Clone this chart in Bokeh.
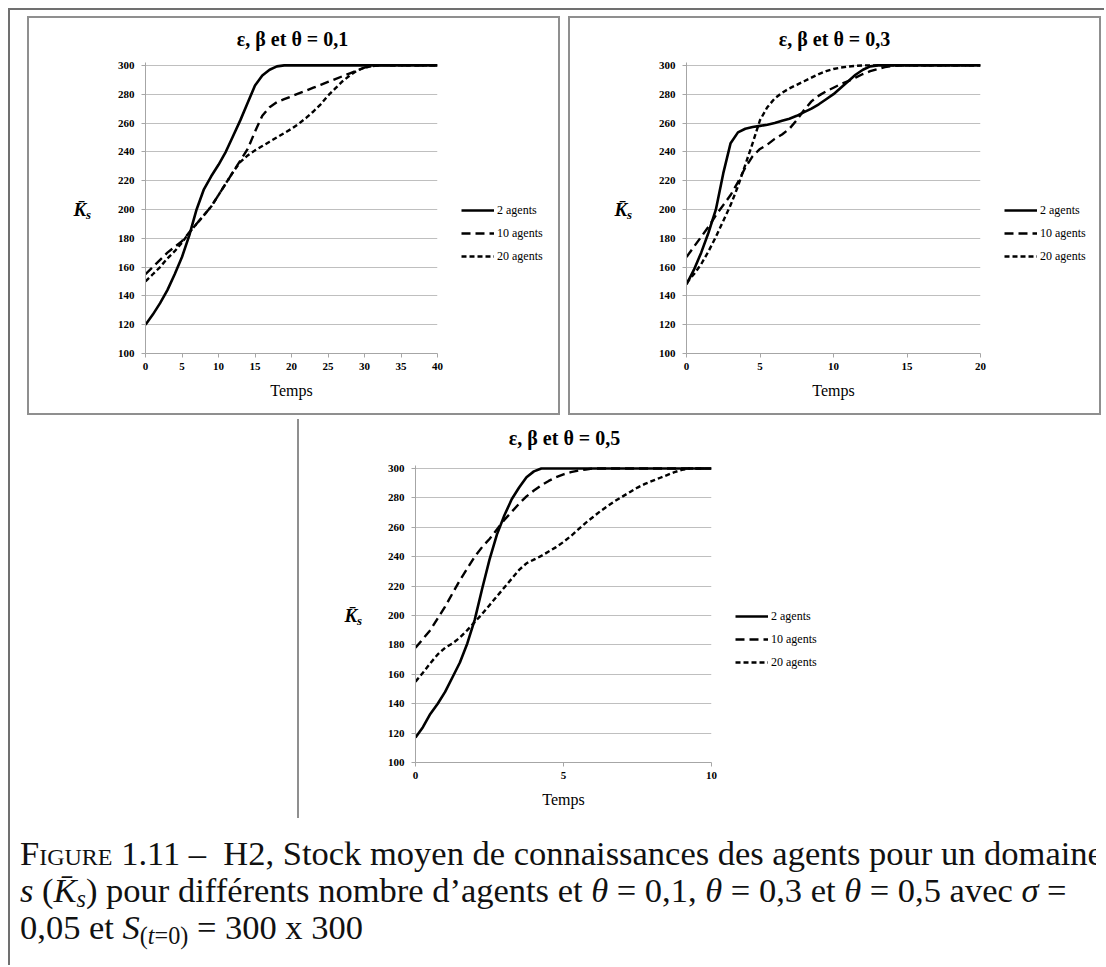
from bokeh.plotting import figure
from bokeh.models import Range1d, FixedTicker, Legend, LegendItem, Div
from bokeh.core.properties import value
from bokeh.embed import file_html
from bokeh.resources import INLINE

SERIF = "Liberation Serif"

series_names = ["2 agents", "10 agents", "20 agents"]
y_ticks = [100, 120, 140, 160, 180, 200, 220, 240, 260, 280, 300]

# ---- Panel 1 : theta = 0,1 ----
title_1 = "ε, β et θ = 0,1"
x_ticks_1 = [0, 5, 10, 15, 20, 25, 30, 35, 40]
t_1 = [0, 1, 2, 3, 4, 5, 6, 7, 8, 9, 10, 11, 12, 13, 14, 15, 16, 17, 18, 19, 20,
       21, 22, 23, 24, 25, 26, 27, 28, 29, 30, 31, 32, 33, 34, 35, 36, 37, 38, 39, 40]
a2_1 = [120, 127, 135, 144, 155, 167, 182, 200, 214, 223, 231, 240, 251, 262, 274, 286, 293, 297, 299.3, 300, 300,
        300, 300, 300, 300, 300, 300, 300, 300, 300, 300, 300, 300, 300, 300, 300, 300, 300, 300, 300, 300]
a10_1 = [155, 160, 165, 170, 174, 178, 184, 190, 196, 202, 210, 218, 226, 234, 242, 254, 265, 271, 274.5, 276.5, 278.5,
         280.5, 282.5, 284.5, 286.5, 288.5, 290.5, 292.5, 294.5, 296.5, 298.5, 299.5, 300, 300, 300, 300, 300, 300, 300, 300, 300]
a20_1 = [150, 155, 160, 166, 171, 177, 184, 190, 196, 202, 210, 218, 226, 233, 237.5, 241, 244, 247, 250, 253, 256,
         259.5, 263.5, 268, 273, 279, 284, 289, 293, 296.5, 298.5, 299.5, 300, 300, 300, 300, 300, 300, 300, 300, 300]

# ---- Panel 2 : theta = 0,3 ----
title_2 = "ε, β et θ = 0,3"
x_ticks_2 = [0, 5, 10, 15, 20]
t_2 = [0, 0.5, 1, 1.5, 2, 2.5, 3, 3.5, 4, 4.5, 5, 5.5, 6, 6.5, 7, 7.5, 8, 8.5, 9, 9.5, 10,
       10.5, 11, 11.5, 12, 12.5, 13, 13.5, 14, 14.5, 15, 15.5, 16, 16.5, 17, 17.5, 18, 18.5, 19, 19.5, 20]
a2_2 = [148, 158, 170, 184, 200, 225, 246, 253.5, 256, 257.2, 258, 258.8, 260, 261.5, 263, 265, 267.5, 270, 273, 276.5, 280,
        284.5, 289, 293.5, 297, 299.3, 300, 300, 300, 300, 300, 300, 300, 300, 300, 300, 300, 300, 300, 300, 300]
a10_2 = [167, 174, 181, 188, 196, 203, 210, 219, 229, 237, 242, 245, 249, 252, 256, 262, 269, 275, 279, 282, 284.5,
         287, 289, 291.5, 294, 296, 297.5, 298.8, 299.5, 300, 300, 300, 300, 300, 300, 300, 300, 300, 300, 300, 300]
a20_2 = [149, 155, 162, 171, 181, 192, 203, 216, 231, 246, 262, 271, 277, 281, 284, 286.5, 289, 291.5, 294, 296, 297.5,
         298.5, 299.2, 299.7, 300, 300, 300, 300, 300, 300, 300, 300, 300, 300, 300, 300, 300, 300, 300, 300, 300]

# ---- Panel 3 : theta = 0,5 ----
title_3 = "ε, β et θ = 0,5"
x_ticks_3 = [0, 5, 10]
t_3 = [0, 0.25, 0.5, 0.75, 1, 1.25, 1.5, 1.75, 2, 2.25, 2.5, 2.75, 3, 3.25, 3.5, 3.75, 4, 4.25, 4.5, 4.75, 5,
       5.25, 5.5, 5.75, 6, 6.25, 6.5, 6.75, 7, 7.25, 7.5, 7.75, 8, 8.25, 8.5, 8.75, 9, 9.25, 9.5, 9.75, 10]
a2_3 = [117, 124, 133, 140, 148, 158, 168, 181, 197, 218, 238, 255, 268, 279, 287, 294, 298, 300, 300, 300, 300,
        300, 300, 300, 300, 300, 300, 300, 300, 300, 300, 300, 300, 300, 300, 300, 300, 300, 300, 300, 300]
a10_3 = [178, 184, 190, 198, 206, 215, 224, 232, 240, 246.5, 252, 258.5, 265, 270.5, 276, 281, 285, 288.5, 291.5, 294, 296,
         297.5, 298.5, 299.3, 300, 300, 300, 300, 300, 300, 300, 300, 300, 300, 300, 300, 300, 300, 300, 300, 300]
a20_3 = [155, 161, 167.5, 173.5, 178, 181, 185, 190, 195.5, 201, 207, 213, 219, 225, 231, 235.5, 238, 240.5, 243.5, 246.5, 250,
         254, 258.5, 263, 267, 271, 274.5, 278, 281, 284, 287, 289.5, 291.5, 293.5, 295.5, 297.5, 299, 300, 300, 300, 300]

SUB = '<sub style="font-size:70%; line-height:0; vertical-align:-0.22em">'
caption_html = (
    '<span style="font-variant: small-caps">Figure</span> 1.11 –&nbsp; H2, Stock moyen de connaissances des agents pour un domaine<br>'
    '<i>s</i> (<i>K̄' + SUB + 's</sub></i>) pour différents nombre d’agents et '
    '<i>θ</i> = 0,1, <i>θ</i> = 0,3 et <i>θ</i> = 0,5 avec <i>σ</i> =<br>'
    '0,05 et <i>S</i>' + SUB + '(<i>t</i>=0)</sub> = 300 x 300'
)

LINE_STYLES = [dict(line_width=2.6, line_dash="solid"),
               dict(line_width=2.4, line_dash="9 5"),
               dict(line_width=2.4, line_dash="5 3")]


def abs_pos(left, top, extra=None):
    s = {"position": "absolute", "left": f"{left}px", "top": f"{top}px"}
    if extra:
        s.update(extra)
    return s


def make_panel(t, series, x_end, x_ticks, w, h, ml, mr, mt, mb, styles):
    p = figure(width=w, height=h, x_range=Range1d(0, x_end), y_range=Range1d(100, 302),
               output_backend="svg", toolbar_location=None,
               min_border_left=ml, min_border_right=mr, min_border_top=mt, min_border_bottom=mb,
               background_fill_color="white", border_fill_color="white",
               outline_line_color=None, styles=styles)

    p.xaxis.ticker = FixedTicker(ticks=x_ticks)
    p.yaxis.ticker = FixedTicker(ticks=y_ticks)
    for ax in (p.xaxis[0], p.yaxis[0]):
        ax.axis_line_color = "#a6a6a6"
        ax.major_tick_line_color = "#a6a6a6"
        ax.major_tick_out = 4
        ax.major_tick_in = 0
        ax.minor_tick_out = 0
        ax.minor_tick_in = 0
        ax.major_label_text_font = SERIF
        ax.major_label_text_font_size = "11px"
        ax.major_label_text_font_style = "bold"
        ax.major_label_text_color = "black"
    p.xaxis.major_label_standoff = 5
    p.yaxis.major_label_standoff = 7

    p.xaxis.axis_label = "Temps"
    p.xaxis.axis_label_text_font = SERIF
    p.xaxis.axis_label_text_font_size = "16px"
    p.xaxis.axis_label_text_font_style = "normal"
    p.xaxis.axis_label_text_color = "black"
    p.xaxis.axis_label_standoff = 9

    p.xgrid.visible = False
    p.ygrid.ticker = FixedTicker(ticks=y_ticks)
    p.ygrid.grid_line_color = "#bfbfbf"
    p.ygrid.grid_line_width = 1

    for ys, st in zip(series, LINE_STYLES):
        p.line(t, ys, line_color="black", line_join="round", **st)
    return p


def overlay(left, top, w, h):
    q = figure(width=w, height=h, x_range=Range1d(0, w), y_range=Range1d(h, 0),
               x_axis_type=None, y_axis_type=None, toolbar_location=None,
               output_backend="svg", min_border=0,
               background_fill_color=None, border_fill_color=None, outline_line_color=None,
               styles=abs_pos(left, top))
    return q


def legend_box(left, top):
    q = overlay(left, top, 100, 70)
    # sample renderers kept outside the visible range: only their legend glyphs show
    rs = [q.line(x=[-60, -50], y=[-60, -60], line_color="black", **st) for st in LINE_STYLES]
    leg = Legend(items=[LegendItem(label=n, renderers=[r]) for n, r in zip(series_names, rs)],
                 location="top_left", border_line_color=None, background_fill_alpha=0,
                 padding=0, margin=0, spacing=3, label_height=20, glyph_height=20,
                 glyph_width=33, label_standoff=3,
                 label_text_font=SERIF, label_text_font_size="12px", label_text_color="black")
    q.add_layout(leg)
    return q


def k_label(left, top):
    q = overlay(left, top, 34, 32)
    q.text(x=[4], y=[16], text=["K\u0304"], text_font=value(SERIF), text_font_size="19px",
           text_font_style="bold italic", text_baseline="middle", text_align="left", text_color="black")
    q.text(x=[16.5], y=[21], text=["s"], text_font=value(SERIF), text_font_size="13px",
           text_font_style="bold italic", text_baseline="middle", text_align="left", text_color="black")
    return q


def title_box(cx, cy, text):
    q = overlay(cx - 150, cy - 17, 300, 34)
    q.text(x=[150], y=[17], text=[text], text_font=value(SERIF), text_font_size="20px",
           text_font_style="bold", text_baseline="middle", text_align="center", text_color="black")
    return q


shadow = "0 0 0 2px #8f8f8f"
p1 = make_panel(t_1, [a2_1, a10_1, a20_1], 40, x_ticks_1,
                529, 395, 116, 121, 44, 60, abs_pos(29, 18, {"box-shadow": shadow}))
p2 = make_panel(t_2, [a2_2, a10_2, a20_2], 20, x_ticks_2,
                529, 395, 116, 119, 44, 60, abs_pos(570, 18, {"box-shadow": shadow}))
p3 = make_panel(t_3, [a2_3, a10_3, a20_3], 10, x_ticks_3,
                531, 399, 116, 119, 46, 56, abs_pos(299, 419, {"box-shadow": "-2px 0 0 0 #8f8f8f"}))

tt1 = title_box(292, 38, title_1)
tt2 = title_box(834, 38, title_2)
tt3 = title_box(564, 437, title_3)

# legends (frame right + 24 px, first entry just below the 200 gridline)
lg1 = legend_box(461, 200)
lg2 = legend_box(1004, 200)
lg3 = legend_box(735, 606)
# y-axis symbol K̄s, left of the tick labels, centred on the 200 gridline
k1 = k_label(69, 193)
k2 = k_label(610, 193)
k3 = k_label(340, 599)

frame_div = Div(text="", width=1096, height=957, margin=0,
                styles=abs_pos(8, 8, {"border-top": "2px solid #707070",
                                      "border-left": "2px solid #707070"}))

caption = Div(text=caption_html, width=1086, height=125, margin=0,
              styles=abs_pos(10, 835, {"font-family": SERIF, "font-size": "34.5px",
                                       "line-height": "37px", "white-space": "nowrap",
                                       "overflow": "hidden", "padding-left": "10px",
                                       "color": "#111111"}))

open("out.html", "w").write(file_html([frame_div, p1, p2, p3, tt1, tt2, tt3,
                                       lg1, lg2, lg3, k1, k2, k3, caption], INLINE))
